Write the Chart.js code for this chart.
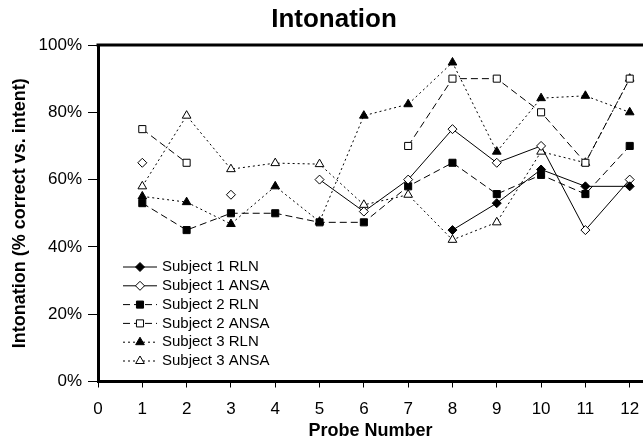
<!DOCTYPE html>
<html>
<head>
<meta charset="utf-8">
<script src="https://cdn.jsdelivr.net/npm/chart.js@4/dist/chart.umd.min.js"></script>
<style>
  html, body { margin: 0; padding: 0; background: #fff; }
  canvas { display: block; }
</style>
</head>
<body>
<canvas id="chart" width="643" height="442"></canvas>
<script>
'use strict';

// Probe numbers on the x axis
const probes = [1, 2, 3, 4, 5, 6, 7, 8, 9, 10, 11, 12];

// Percent correct per probe (null = no value at that probe)
const s1Rln  = [null, null, null, null, null, null, null, 45, 53, 63, 58, 58];
const s1Ansa = [65, null, 55.5, null, 60, 50.5, 60, 75, 65, 70, 45, 60];
const s2Rln  = [53, 45, 50, 50, 47.3, 47.3, 58, 65, 55.7, 61.4, 55.7, 70];
const s2Ansa = [75, 65, null, null, null, null, 70, 90, 90, 80, 65, 90];
const s3Rln  = [55, 53.3, 46.8, 58, 47.5, 79, 82.4, 94.8, 68.3, 84.2, 84.9, 80];
const s3Ansa = [58, 79, 63.1, 64.9, 64.6, 52.5, 55.5, 42.1, 47.3, 68.3, 65, 90];

const xTicks = [0, 1, 2, 3, 4, 5, 6, 7, 8, 9, 10, 11, 12];
const yTicks = [0, 20, 40, 60, 80, 100];

const FONT = 'Arial, "Liberation Sans", sans-serif';

function toPoints(values) {
  return probes.map((p, i) => ({ x: p, y: values[i] }));
}

function series(label, values, style, filled, dash, radius) {
  return {
    label,
    data: toPoints(values),
    borderColor: '#000',
    borderWidth: 1,
    borderDash: dash,
    pointStyle: style,
    pointRadius: radius,
    pointBorderColor: '#000',
    pointBorderWidth: 1,
    pointBackgroundColor: filled ? '#000' : '#fff',
    fill: false,
    tension: 0,
    spanGaps: false
  };
}

const SOLID = [], DASHED = [7, 4], DOTTED = [2, 3];

const datasets = [
  series('Subject 1 RLN',  s1Rln,  'rectRot',  true,  SOLID,  4.5),
  series('Subject 1 ANSA', s1Ansa, 'rectRot',  false, SOLID,  4.5),
  series('Subject 2 RLN',  s2Rln,  'rect',     true,  DASHED, 5),
  series('Subject 2 ANSA', s2Ansa, 'rect',     false, DASHED, 5),
  series('Subject 3 RLN',  s3Rln,  'triangle', true,  DOTTED, 5),
  series('Subject 3 ANSA', s3Ansa, 'triangle', false, DOTTED, 5)
];

// Title (sits a bit left of the plot centre) and thick top frame line
const frame = {
  id: 'frame',
  afterDraw(chart) {
    const { ctx, chartArea } = chart;
    ctx.save();
    ctx.strokeStyle = '#000';
    ctx.lineWidth = 3;
    ctx.beginPath();
    ctx.moveTo(chartArea.left - 1.5, chartArea.top);
    ctx.lineTo(chartArea.right, chartArea.top);
    ctx.stroke();

    ctx.fillStyle = '#000';
    ctx.font = 'bold 26px ' + FONT;
    ctx.textAlign = 'center';
    ctx.textBaseline = 'alphabetic';
    ctx.fillText('Intonation', 334, 27);
    ctx.restore();
  }
};

// Legend sitting inside the plot, lower left
const innerLegend = {
  id: 'innerLegend',
  afterDatasetsDraw(chart) {
    const { ctx } = chart;
    const x0 = 123, x1 = 157, tx = 162, y0 = 267, step = 18.8;
    ctx.save();
    chart.data.datasets.forEach((ds, i) => {
      const y = y0 + i * step;
      ctx.strokeStyle = '#000';
      ctx.lineWidth = 1;
      ctx.setLineDash(ds.borderDash);
      ctx.beginPath();
      ctx.moveTo(x0, y);
      ctx.lineTo(x1, y);
      ctx.stroke();
      ctx.setLineDash([]);
      ctx.fillStyle = ds.pointBackgroundColor;
      ctx.strokeStyle = '#000';
      Chart.helpers.drawPoint(ctx, {
        pointStyle: ds.pointStyle,
        radius: ds.pointRadius,
        borderWidth: 1
      }, (x0 + x1) / 2, y);
      ctx.fillStyle = '#000';
      ctx.font = '15px ' + FONT;
      ctx.textBaseline = 'middle';
      ctx.textAlign = 'left';
      ctx.fillText(ds.label, tx, y);
    });
    ctx.restore();
  }
};

new Chart(document.getElementById('chart'), {
  type: 'line',
  data: { datasets },
  plugins: [frame, innerLegend],
  options: {
    responsive: false,
    animation: false,
    devicePixelRatio: 1,
    layout: { autoPadding: false, padding: { top: 45, right: 0, bottom: 0, left: 0 } },
    plugins: {
      legend: { display: false },
      tooltip: { enabled: false },
      title: { display: false }
    },
    scales: {
      x: {
        type: 'linear',
        min: 0,
        max: 12.3,
        afterFit: s => { s.height = 60.5; s.paddingRight = 0; },
        afterBuildTicks: s => { s.ticks = xTicks.map(v => ({ value: v })); },
        ticks: {
          color: '#000',
          padding: 12,
          maxRotation: 0,
          autoSkip: false,
          font: { family: FONT, size: 17 }
        },
        grid: { drawOnChartArea: false, tickLength: 6, color: '#000', tickWidth: 1 },
        border: { display: true, color: '#000', width: 3 },
        title: {
          display: true,
          text: 'Probe Number',
          color: '#000',
          font: { family: FONT, size: 18, weight: 'bold' },
          padding: { top: 0, bottom: 0 }
        }
      },
      y: {
        min: 0,
        max: 100,
        afterFit: s => { s.width = 98; },
        afterBuildTicks: s => { s.ticks = yTicks.map(v => ({ value: v })); },
        ticks: {
          color: '#000',
          padding: 6,
          font: { family: FONT, size: 17 },
          callback: v => v + '%'
        },
        grid: { drawOnChartArea: false, tickLength: 10, color: '#000', tickWidth: 1 },
        border: { display: true, color: '#000', width: 3 },
        title: {
          display: true,
          text: 'Intonation (% correct vs. intent)',
          color: '#000',
          font: { family: FONT, size: 18, weight: 'bold' },
          padding: { top: 9, bottom: 0 }
        }
      }
    }
  }
});
</script>
</body>
</html>
